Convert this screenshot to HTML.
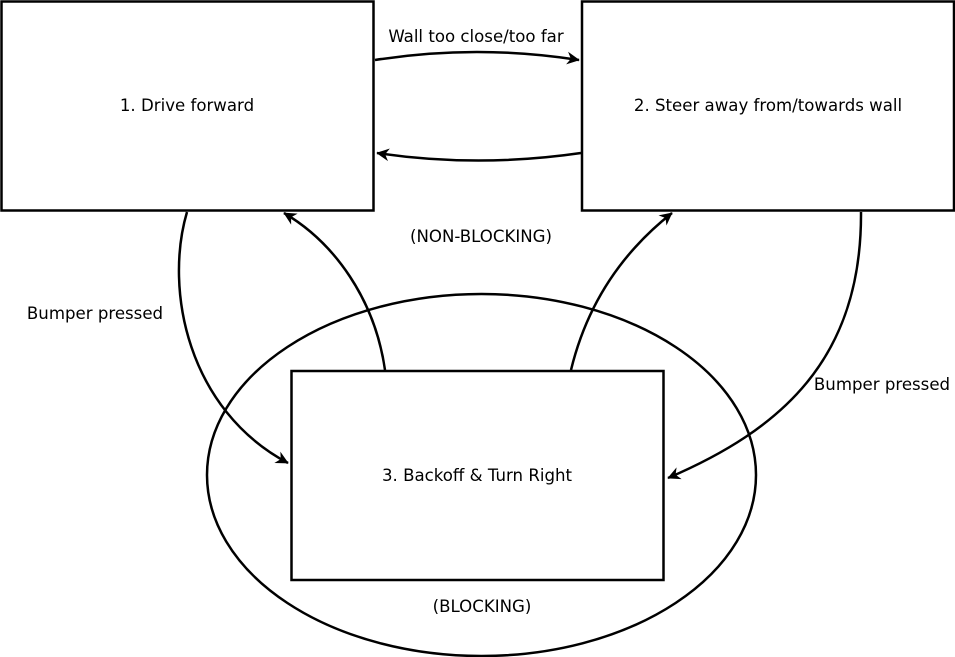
<!DOCTYPE html>
<html><head><meta charset="utf-8"><style>
html,body{margin:0;padding:0;background:#fff;}
svg{display:block;}
text{font-family:"DejaVu Sans","Liberation Sans",sans-serif;font-size:16.6px;fill:#000;}
</style></head><body>
<svg width="955" height="657" viewBox="0 0 955 657" xmlns="http://www.w3.org/2000/svg">
<defs>
<marker id="a" viewBox="0 0 10 10" refX="9" refY="5" markerWidth="8" markerHeight="8" markerUnits="userSpaceOnUse" orient="auto" style="overflow:visible">
<path d="M0,0 L10,5 L0,10 L3,5 Z" fill="#000" transform="scale(1.6) translate(-3.8,-1.9)"/>
</marker>
</defs>
<g fill="none" stroke="#000" stroke-width="2.5">
<rect x="1.5" y="1.5" width="372" height="209" fill="#fff"/>
<rect x="582" y="1.5" width="372" height="209" fill="#fff"/>
<ellipse cx="481.5" cy="475" rx="274.5" ry="181"/>
<rect x="291.5" y="371" width="372" height="209" fill="#fff"/>
</g>
<g fill="none" stroke="#000" stroke-width="2.5" marker-end="url(#a)">
<path d="M375,60 Q477,44 579,60"/>
<path d="M581,153 Q478,168 377,153"/>
<path d="M187,212 C164,290 188,410 288,463"/>
<path d="M385,370 C375,300 335,243 284,213"/>
<path d="M571,370 C588,300 625,250 672,213"/>
<path d="M861,212 C862,360 780,430 668,478"/>
</g>
<text x="187" y="111" text-anchor="middle">1. Drive forward</text>
<text x="768" y="111" text-anchor="middle">2. Steer away from/towards wall</text>
<text x="477" y="481" text-anchor="middle">3. Backoff &amp; Turn Right</text>
<text x="476" y="42" text-anchor="middle">Wall too close/too far</text>
<text x="481" y="242" text-anchor="middle">(NON-BLOCKING)</text>
<text x="482" y="612" text-anchor="middle">(BLOCKING)</text>
<text x="95" y="319" text-anchor="middle">Bumper pressed</text>
<text x="882" y="390" text-anchor="middle">Bumper pressed</text>
</svg>
</body></html>
